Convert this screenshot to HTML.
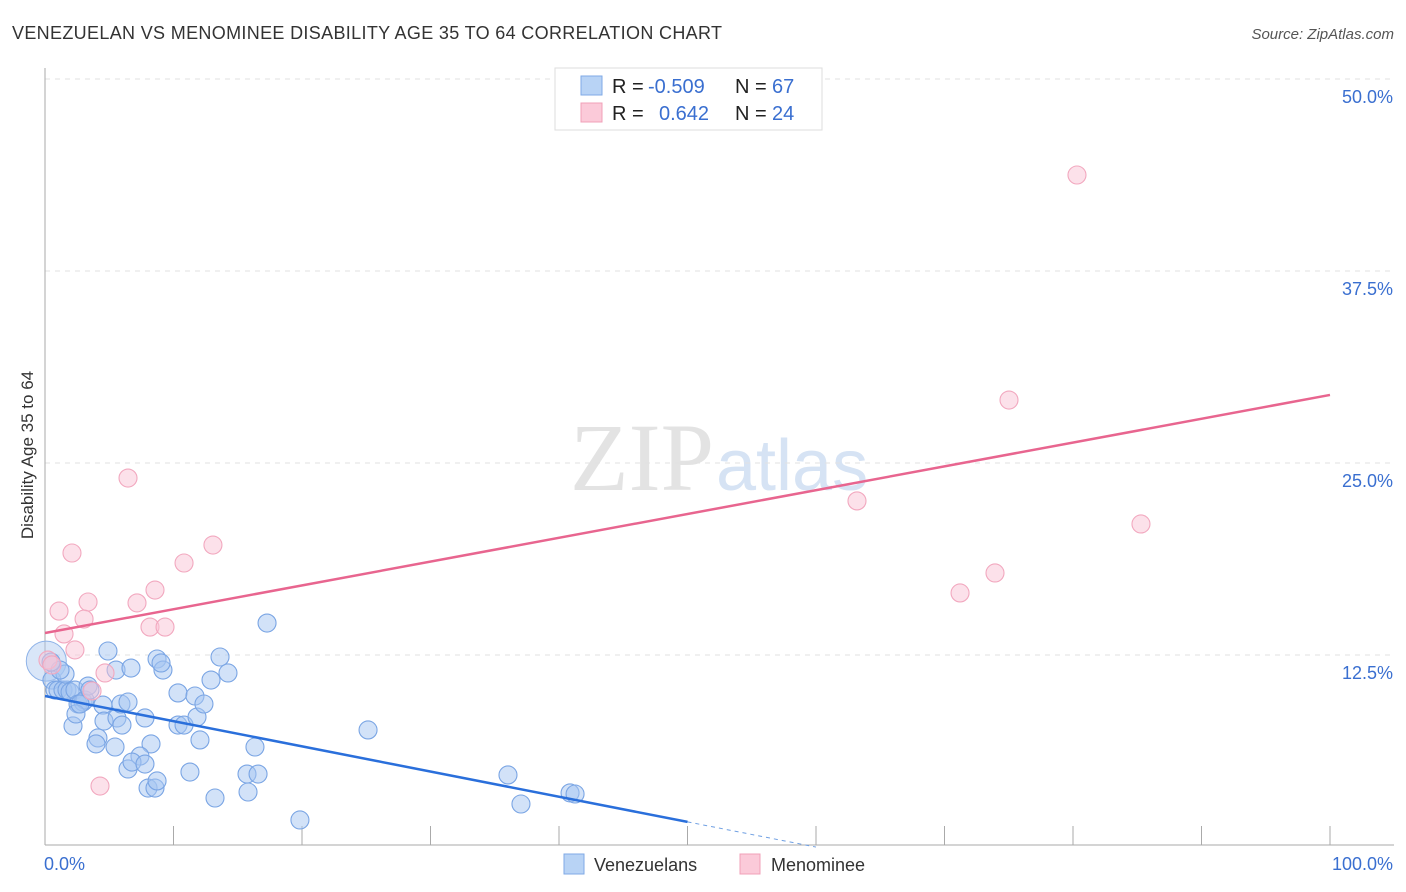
<!DOCTYPE html>
<html><head><meta charset="utf-8"><style>
body{margin:0;background:#fff;font-family:"Liberation Sans",sans-serif}
svg{display:block}
</style></head><body>
<svg id="chart" width="1406" height="892" xmlns="http://www.w3.org/2000/svg">
<text x="12" y="39" font-size="18" fill="#333" textLength="710">VENEZUELAN VS MENOMINEE DISABILITY AGE 35 TO 64 CORRELATION CHART</text>
<text x="1394" y="39" font-size="15" fill="#555" font-style="italic" text-anchor="end">Source: ZipAtlas.com</text>
<text x="714" y="490" font-size="96" fill="#e3e3e3" text-anchor="end" font-family="Liberation Serif,serif">ZIP</text>
<text x="716" y="490" font-size="72" fill="#d6e3f4">atlas</text>
<g id="grid"></g><g id="axes"></g><g id="marks"></g>
<text transform="translate(33,455) rotate(-90)" font-size="17" fill="#333" text-anchor="middle">Disability Age 35 to 64</text>
<g>
<rect x="555" y="68" width="267" height="62" fill="#fff" stroke="#ddd"/>
<rect x="581" y="76" width="21" height="19" fill="#b8d3f5" stroke="#7fa9e6"/>
<rect x="581" y="103" width="21" height="19" fill="#fbcad9" stroke="#f0a0b8"/>
<text x="612" y="93" font-size="20" fill="#222">R =</text><text x="648" y="93" font-size="20" fill="#3a6fd0">-0.509</text>
<text x="735" y="93" font-size="20" fill="#222">N =</text><text x="772" y="93" font-size="20" fill="#3a6fd0">67</text>
<text x="612" y="120" font-size="20" fill="#222">R =</text><text x="659" y="120" font-size="20" fill="#3a6fd0">0.642</text>
<text x="735" y="120" font-size="20" fill="#222">N =</text><text x="772" y="120" font-size="20" fill="#3a6fd0">24</text>
</g>
<g><rect x="564" y="854" width="20" height="20" fill="#b8d3f5" stroke="#7fa9e6"/><text x="594" y="871" font-size="18" fill="#333">Venezuelans</text></g>
<g><rect x="740" y="854" width="20" height="20" fill="#fbcad9" stroke="#f0a0b8"/><text x="771" y="871" font-size="18" fill="#333">Menominee</text></g>
</svg>
<script>
const blueX=[0.54,0.78,1.01,1.40,1.71,1.95,2.33,2.57,2.96,3.11,3.35,3.50,1.56,1.17,0.47,2.18,2.41,2.72,4.51,4.90,4.59,4.12,3.97,5.45,5.53,5.60,5.99,5.91,6.46,6.69,7.78,8.25,7.39,6.46,6.77,7.78,8.02,8.56,8.72,8.72,9.18,9.03,10.35,10.35,10.82,11.28,11.83,11.67,12.06,12.37,12.92,13.23,13.62,14.24,15.80,15.72,16.58,16.34,17.28,19.84,25.14,36.03,37.04,40.86,41.25];
const blueY=[10.87,10.22,10.22,10.22,10.22,10.09,10.22,9.31,9.44,9.57,10.48,10.22,11.26,11.52,12.04,7.88,8.66,9.31,9.24,12.76,8.20,7.10,6.71,6.51,11.52,8.40,7.94,9.31,9.44,11.65,8.40,6.71,5.92,5.08,5.53,5.40,3.84,3.84,4.30,12.24,11.52,11.98,10.03,7.94,7.94,4.88,8.46,9.83,6.97,9.31,10.87,3.19,12.37,11.33,3.58,4.75,4.75,6.51,14.58,1.76,7.62,4.69,2.80,3.52,3.45];
const pinkX=[80.31,75.02,63.19,85.29,73.93,71.21,6.46,13.07,2.10,10.82,8.56,3.35,7.16,1.09,3.04,8.17,9.34,1.48,2.33,4.67,0.23,3.66,4.28,0.54];
const pinkY=[43.75,29.10,22.53,21.03,17.84,16.54,24.02,19.66,19.14,18.49,16.73,15.95,15.89,15.36,14.84,14.32,14.32,13.87,12.83,11.33,12.17,10.16,3.97,11.85];
const yTicks=[12.5,25,37.5,50];
const yTickLabels=["12.5%","25.0%","37.5%","50.0%"];
const blueTrend=[9.83,-0.1639];
const pinkTrend=[13.93,0.155];
const NS="http://www.w3.org/2000/svg";
const X=v=>45+v*12.85, Y=v=>847-v*15.36;
function mk(p,t,a){const e=document.createElementNS(NS,t);for(const k in a)e.setAttribute(k,a[k]);document.getElementById(p).appendChild(e);return e;}
yTicks.forEach((t,i)=>{
 const g=mk('grid','line',{x1:45,x2:1394,y1:Y(t),y2:Y(t),stroke:'#e2e2e2','stroke-dasharray':'5,5'});
 
 
 const l=mk('axes','text',{x:1393,y:Y(t)+24,'font-size':18,fill:'#3a6fd0','text-anchor':'end'});l.textContent=yTickLabels[i];
 
 
});
const ax=mk('axes','line',{x1:45,x2:1394,y1:845,y2:845,stroke:'#aaa'});


const ay=mk('axes','line',{x1:45,x2:45,y1:68,y2:845,stroke:'#aaa'});


for(let i=0;i<=10;i++){const t=mk('axes','line',{x1:X(i*10),x2:X(i*10),y1:826,y2:845,stroke:'#aaa'});
 
 }
const l0=mk('axes','text',{x:44,y:870,'font-size':18,fill:'#3a6fd0'});l0.textContent='0.0%';


const l1=mk('axes','text',{x:1393,y:870,'font-size':18,fill:'#3a6fd0','text-anchor':'end'});l1.textContent='100.0%';


const big=mk('marks','circle',{cx:X(0.1),cy:Y(12.1),r:20,fill:'rgba(170,200,240,0.45)',stroke:'#8fb3e8'});


blueX.forEach((x,i)=>{const c=mk('marks','circle',{cx:X(x),cy:Y(blueY[i]),r:9,fill:'rgba(165,198,242,0.5)',stroke:'#7aa5e4','stroke-width':1.1});
 
 });
pinkX.forEach((x,i)=>{const c=mk('marks','circle',{cx:X(x),cy:Y(pinkY[i]),r:9,fill:'rgba(250,195,213,0.5)',stroke:'#f2a8bf','stroke-width':1.1});
 
 });
const bl=mk('marks','line',{x1:X(0),y1:Y(blueTrend[0]),x2:X(50),y2:Y(blueTrend[0]+blueTrend[1]*50),stroke:'#2a6fdb','stroke-width':2.5});


const bd=mk('marks','line',{x1:X(50),y1:Y(blueTrend[0]+blueTrend[1]*50),x2:X(60),y2:Y(blueTrend[0]+blueTrend[1]*60),stroke:'#6f9fe2','stroke-width':1,'stroke-dasharray':'4,4'});


const pl=mk('marks','line',{x1:X(0),y1:Y(pinkTrend[0]),x2:X(100),y2:Y(pinkTrend[0]+pinkTrend[1]*100),stroke:'#e8658f','stroke-width':2.5});


</script>
</body></html>
